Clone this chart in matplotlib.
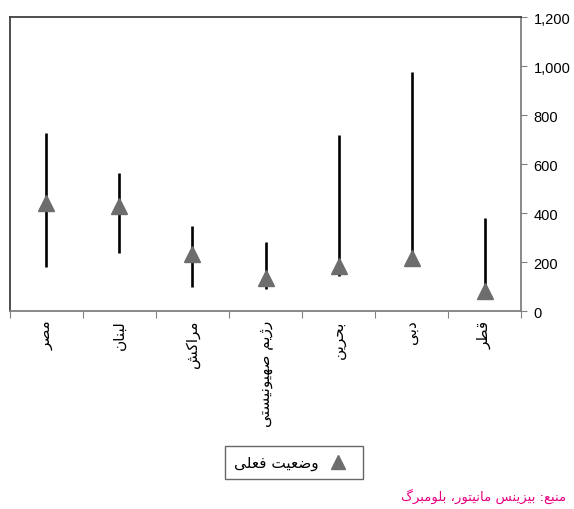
import numpy as np
import matplotlib
matplotlib.use("Agg")
import matplotlib.pyplot as plt
from matplotlib.lines import Line2D

# data
categories = ["مصر", "لبنان", "مراکش", "رژیم صهیونیستی", "بحرین", "دبی", "قطر"]
high = [726, 563, 347, 282, 718, 976, 380]
low = [180, 237, 98, 90, 143, 210, 80]
current = [440, 429, 233, 135, 186, 216, 82]
yticks = [0, 200, 400, 600, 800, 1000, 1200]
legend_label = "وضعیت فعلی"
source = "منبع: بیزینس مانیتور، بلومبرگ"

# small persian shaper (matplotlib has no complex text layout)
# forms: isolated, final, initial, medial
FORMS = {
    "ا": ("\uFE8D", "\uFE8E", None, None),
    "ب": ("\uFE8F", "\uFE90", "\uFE91", "\uFE92"),
    "ت": ("\uFE95", "\uFE96", "\uFE97", "\uFE98"),
    "ح": ("\uFEA1", "\uFEA2", "\uFEA3", "\uFEA4"),
    "د": ("\uFEA9", "\uFEAA", None, None),
    "ر": ("\uFEAD", "\uFEAE", None, None),
    "ز": ("\uFEAF", "\uFEB0", None, None),
    "ژ": ("\uFB8A", "\uFB8B", None, None),
    "س": ("\uFEB1", "\uFEB2", "\uFEB3", "\uFEB4"),
    "ش": ("\uFEB5", "\uFEB6", "\uFEB7", "\uFEB8"),
    "ص": ("\uFEB9", "\uFEBA", "\uFEBB", "\uFEBC"),
    "ض": ("\uFEBD", "\uFEBE", "\uFEBF", "\uFEC0"),
    "ط": ("\uFEC1", "\uFEC2", "\uFEC3", "\uFEC4"),
    "ع": ("\uFEC9", "\uFECA", "\uFECB", "\uFECC"),
    "ف": ("\uFED1", "\uFED2", "\uFED3", "\uFED4"),
    "ق": ("\uFED5", "\uFED6", "\uFED7", "\uFED8"),
    "ک": ("\uFB8E", "\uFB8F", "\uFB90", "\uFB91"),
    "گ": ("\uFB92", "\uFB93", "\uFB94", "\uFB95"),
    "ل": ("\uFEDD", "\uFEDE", "\uFEDF", "\uFEE0"),
    "م": ("\uFEE1", "\uFEE2", "\uFEE3", "\uFEE4"),
    "ن": ("\uFEE5", "\uFEE6", "\uFEE7", "\uFEE8"),
    "ه": ("\uFEE9", "\uFEEA", "\uFEEB", "\uFEEC"),
    "و": ("\uFEED", "\uFEEE", None, None),
    "ی": ("\uFBFC", "\uFBFD", "\uFBFE", "\uFBFF"),
}


def fa(text):
    out = []
    for i, ch in enumerate(text):
        if ch not in FORMS:
            out.append(ch)
            continue
        prev = text[i - 1] if i > 0 else ""
        nxt = text[i + 1] if i + 1 < len(text) else ""
        join_prev = prev in FORMS and FORMS[prev][2] is not None
        join_next = FORMS[ch][2] is not None and nxt in FORMS
        f = FORMS[ch]
        if join_prev and join_next:
            out.append(f[3])
        elif join_prev:
            out.append(f[1])
        elif join_next:
            out.append(f[2])
        else:
            out.append(f[0])
    return "".join(out)[::-1]


plt.rcParams["font.family"] = ["Liberation Sans", "DejaVu Sans"]
fa_font = ["DejaVu Sans"]
pink = "#e6007e"
gray = "#808080"

fig = plt.figure(figsize=(5.74, 5.10), dpi=100)
ax = fig.add_axes([0.0174, 0.388, 0.8903, 0.5765])

x = np.arange(len(categories))
ax.vlines(x, low, high, colors="black", linewidth=1.9, zorder=2)
ax.plot(x, current, linestyle="none", marker="^", markersize=11,
        color="#6d6d6d", zorder=3)

ax.set_xlim(-0.5, len(categories) - 0.5)
ax.set_ylim(0, 1200)
ax.yaxis.tick_right()
ax.set_yticks(yticks)
ax.set_yticklabels([f"{v:,}" for v in yticks], fontsize=10.5)
ax.tick_params(axis="y", direction="out", length=4, color=gray, pad=5)

ax.set_xticks(np.arange(len(categories) + 1) - 0.5)
ax.set_xticklabels([])
ax.set_xticks(x, minor=True)
ax.set_xticklabels([fa(c) for c in categories], minor=True, rotation=90,
                   fontsize=11, family=fa_font, va="top")
ax.tick_params(axis="x", which="major", direction="out", length=5, color=gray)
ax.tick_params(axis="x", which="minor", length=0, pad=6)

for side in ["left", "top"]:
    ax.spines[side].set_color("#404040")
    ax.spines[side].set_linewidth(1.3)
for side in ["right", "bottom"]:
    ax.spines[side].set_color(gray)
    ax.spines[side].set_linewidth(1.3)

handle = Line2D([], [], linestyle="none", marker="^", markersize=10, color="#6d6d6d")
leg = fig.legend([handle], [fa(legend_label)], loc="center",
                 bbox_to_anchor=(0.512, 0.091), markerfirst=False,
                 prop={"family": fa_font, "size": 11}, fancybox=False,
                 edgecolor="#404040", handletextpad=0.3, borderpad=0.6)
leg.get_frame().set_linewidth(1.0)

fig.text(0.986, 0.027, fa(source), color=pink, fontsize=9.5, family=fa_font,
         ha="right", va="center")

fig.savefig("out.png", dpi=100)
